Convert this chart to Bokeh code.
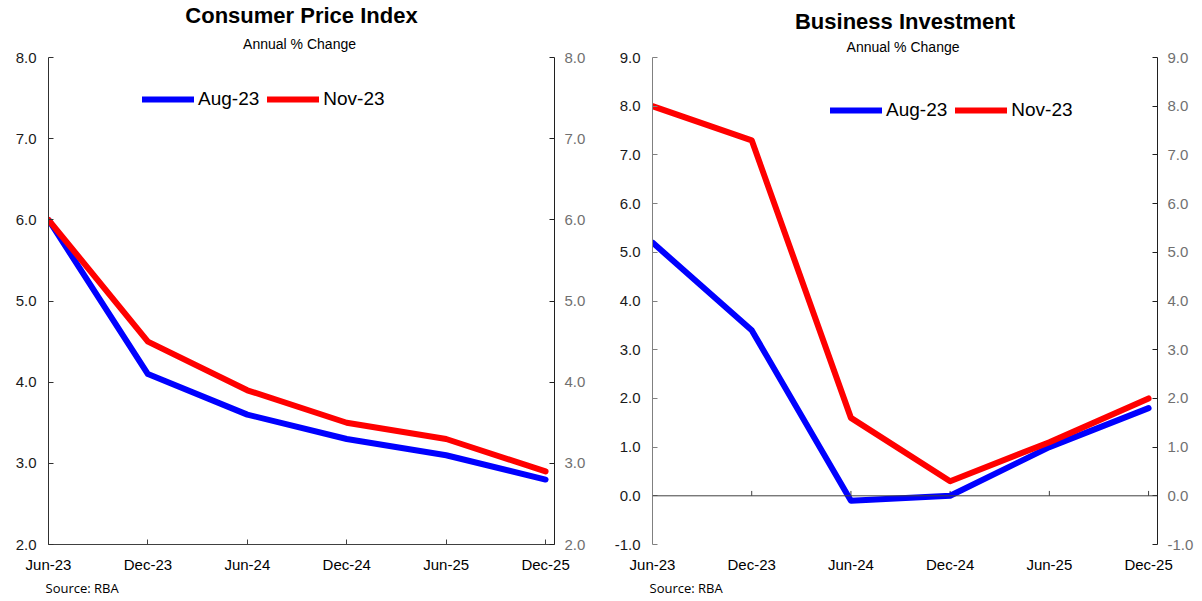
from bokeh.plotting import figure
from bokeh.layouts import row
from bokeh.models import (Range1d, LinearAxis, FixedTicker, NumeralTickFormatter,
                          Legend, LegendItem, Title, Span, ColumnDataSource)
from bokeh.embed import file_html
from bokeh.resources import INLINE

# ---- data ----
dates = ["Jun-23", "Dec-23", "Jun-24", "Dec-24", "Jun-25", "Dec-25"]
cpi_aug = [6.0, 4.1, 3.6, 3.3, 3.1, 2.8]
cpi_nov = [6.0, 4.5, 3.9, 3.5, 3.3, 2.9]
bi_aug = [5.2, 3.4, -0.1, 0.0, 1.0, 1.8]
bi_nov = [8.0, 7.3, 1.6, 0.3, 1.1, 2.0]
series_names = ["Aug-23", "Nov-23"]
cpi_yticks = [2, 3, 4, 5, 6, 7, 8]
bi_yticks = [-1, 0, 1, 2, 3, 4, 5, 6, 7, 8, 9]

FONT = "Liberation Sans"
xs = list(range(len(dates)))


def make_fig(title, aug, nov, yticks, width, bl, br, left_axis_color,
             legend_loc, sub_standoff, zero_axis):
    p = figure(width=width, height=598, output_backend="svg", toolbar_location=None,
               x_range=Range1d(0, 5.09), y_range=Range1d(yticks[0], yticks[-1]),
               min_border_left=bl, min_border_right=br, min_border_top=55,
               min_border_bottom=53)
    p.outline_line_color = None
    p.xgrid.visible = False
    p.ygrid.visible = False
    p.background_fill_color = "white"
    p.border_fill_color = "white"

    # x axis
    xa = p.xaxis[0]
    xa.ticker = FixedTicker(ticks=xs)
    xa.major_label_overrides = {i: d for i, d in zip(xs, dates)}
    xa.major_label_text_font = FONT
    xa.major_label_text_font_size = "15px"
    xa.major_label_text_color = "black"
    xa.major_label_standoff = 11
    xa.minor_tick_line_color = None
    xa.major_tick_in = 5
    xa.major_tick_out = 0
    xa.axis_line_color = "#404040"
    xa.major_tick_line_color = "#404040"
    if zero_axis:
        xa.axis_line_color = None
        xa.major_tick_line_color = None

    # left y axis
    ya = p.yaxis[0]
    ya.ticker = FixedTicker(ticks=yticks)
    ya.formatter = NumeralTickFormatter(format="0.0")
    ya.major_label_text_font = FONT
    ya.major_label_text_font_size = "15px"
    ya.major_label_text_color = "#1a1a1a"
    ya.major_label_standoff = 12
    ya.minor_tick_line_color = None
    ya.major_tick_in = 5
    ya.major_tick_out = 0
    ya.axis_line_color = left_axis_color
    ya.major_tick_line_color = left_axis_color

    # right y axis
    ra = LinearAxis(ticker=FixedTicker(ticks=yticks),
                    formatter=NumeralTickFormatter(format="0.0"))
    ra.major_label_text_font = FONT
    ra.major_label_text_font_size = "15px"
    ra.major_label_text_color = "#707070"
    ra.major_label_standoff = 10
    ra.minor_tick_line_color = None
    ra.major_tick_in = 5
    ra.major_tick_out = 0
    ra.axis_line_color = "#202020"
    ra.major_tick_line_color = "#202020"
    p.add_layout(ra, "right")

    if zero_axis:
        p.add_layout(Span(location=0, dimension="width", line_color="#404040",
                          line_width=1))
        src_t = ColumnDataSource(dict(x=xs[1:], y0=[0] * (len(xs) - 1),
                                      y1=[0.1] * (len(xs) - 1)))
        p.segment(x0="x", y0="y0", x1="x", y1="y1", source=src_t,
                  line_color="#404040", line_width=1)

    src = ColumnDataSource(dict(x=xs, aug=aug, nov=nov))
    r1 = p.line("x", "aug", source=src, line_color="#0000FF", line_width=6,
                line_cap="round", line_join="round")
    r2 = p.line("x", "nov", source=src, line_color="#FF0000", line_width=6,
                line_cap="round", line_join="round")

    leg = Legend(items=[LegendItem(label=series_names[0], renderers=[r1]),
                        LegendItem(label=series_names[1], renderers=[r2])],
                 orientation="horizontal", location=legend_loc,
                 glyph_width=52, glyph_height=20, label_height=20,
                 label_standoff=4, spacing=8, padding=0, margin=0,
                 border_line_color=None, background_fill_alpha=0,
                 label_text_font=FONT, label_text_font_size="19px",
                 label_text_color="black")
    p.add_layout(leg)

    p.add_layout(Title(text="Annual  % Change", align="center", text_font=FONT,
                       text_font_size="14px", text_font_style="normal",
                       text_color="black", standoff=sub_standoff), "above")
    p.add_layout(Title(text=title, align="center", text_font=FONT,
                       text_font_size="22px", text_font_style="bold",
                       text_color="black", standoff=0, text_line_height=0.9),
                 "above")
    p.add_layout(Title(text="Source: RBA", align="left", text_font="Open Sans",
                       text_font_size="13px", text_font_style="normal",
                       text_color="black", offset=-3, standoff=3), "below")
    return p


p1 = make_fig("Consumer Price Index", cpi_aug, cpi_nov, cpi_yticks, 600, 48, 46,
              "#303030", (94, 434), 12, False)
p2 = make_fig("Business Investment", bi_aug, bi_nov, bi_yticks, 600, 52, 43,
              "#808080", (178, 423), 6, True)

layout = row(p1, p2)
open("out.html", "w").write(file_html(layout, INLINE))
